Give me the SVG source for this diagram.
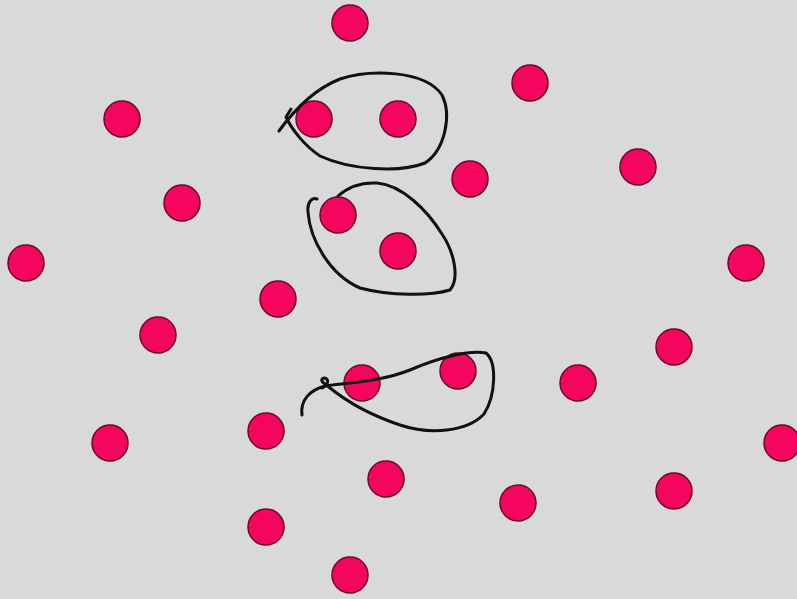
<svg xmlns="http://www.w3.org/2000/svg" width="797" height="599" viewBox="0 0 797 599">
<style>
.d{fill:#f4065f;stroke:#6a0a2a;stroke-width:1.5}
.l{fill:none;stroke:#111;stroke-width:3;stroke-linecap:round;stroke-linejoin:round}
</style>
<rect width="797" height="599" fill="#d9d9d9"/>
<g id="dots">
<circle class="d" cx="350" cy="23" r="18"/>
<circle class="d" cx="530" cy="83" r="18"/>
<circle class="d" cx="122" cy="119" r="18"/>
<circle class="d" cx="314" cy="119" r="18"/>
<circle class="d" cx="398" cy="119" r="18"/>
<circle class="d" cx="638" cy="167" r="18"/>
<circle class="d" cx="470" cy="179" r="18"/>
<circle class="d" cx="182" cy="203" r="18"/>
<circle class="d" cx="338" cy="215" r="18"/>
<circle class="d" cx="398" cy="251" r="18"/>
<circle class="d" cx="26" cy="263" r="18"/>
<circle class="d" cx="746" cy="263" r="18"/>
<circle class="d" cx="278" cy="299" r="18"/>
<circle class="d" cx="158" cy="335" r="18"/>
<circle class="d" cx="674" cy="347" r="18"/>
<circle class="d" cx="362" cy="383" r="18"/>
<circle class="d" cx="458" cy="371" r="18"/>
<circle class="d" cx="578" cy="383" r="18"/>
<circle class="d" cx="110" cy="443" r="18"/>
<circle class="d" cx="266" cy="431" r="18"/>
<circle class="d" cx="782" cy="443" r="18"/>
<circle class="d" cx="386" cy="479" r="18"/>
<circle class="d" cx="518" cy="503" r="18"/>
<circle class="d" cx="674" cy="491" r="18"/>
<circle class="d" cx="266" cy="527" r="18"/>
<circle class="d" cx="350" cy="575" r="18"/>
</g>
<g id="loops">
<path class="l" d="M279,131 C292,113 312,90 340,79 C370,69 425,70 442,95 C452,115 445,150 425,163 C400,173 350,170 320,156 C305,146 292,130 286,117 L291,109"/>
<path class="l" d="M317,199 C312,197 307,202 308,212 C310,240 330,275 360,288 C390,296 430,296 450,290 C460,278 454,252 442,234 C427,210 402,185 377,183 C360,182 347,188 338,196"/>
<path class="l" d="M302,415 C300,400 310,390 325,386 C345,383 380,382 410,370 C440,357 470,350 486,353 C497,362 496,395 484,414 C467,432 430,435 400,425 C370,415 345,400 330,388 C325,384 318,380 324,378 C330,378 328,386 322,388"/>
</g>
</svg>
